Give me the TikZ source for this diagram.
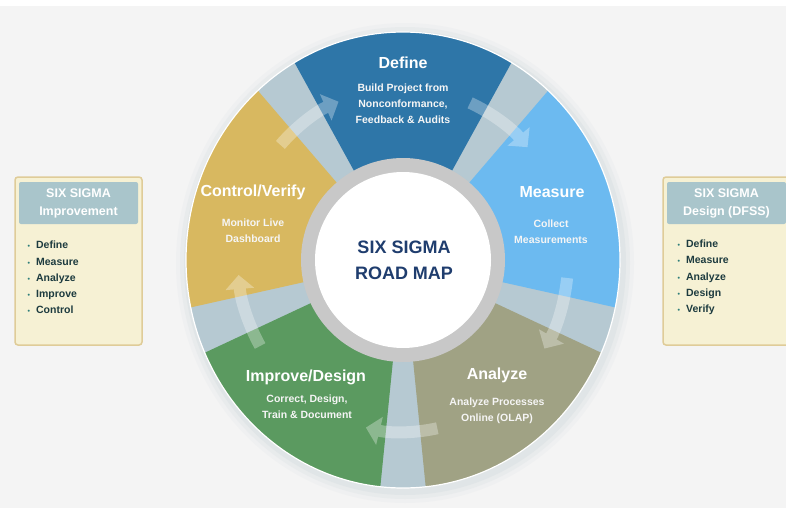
\documentclass[tikz,border=0pt]{standalone}
\usepackage{fontspec}
\setmainfont{Liberation Sans}
\usetikzlibrary{arrows.meta}

\definecolor{pagebg}{HTML}{F4F4F4}
\definecolor{shadowcol}{HTML}{C9D3D8}
\definecolor{gapcol}{HTML}{B6C9D2}
\definecolor{definecol}{HTML}{2E76A8}
\definecolor{measurecol}{HTML}{6CBAF0}
\definecolor{analyzecol}{HTML}{A0A284}
\definecolor{improvecol}{HTML}{5B9A60}
\definecolor{controlcol}{HTML}{D8B860}
\definecolor{ringcol}{HTML}{C8C8C8}
\definecolor{hubtext}{HTML}{1F3D6E}
\definecolor{boxfill}{HTML}{F6F1D4}
\definecolor{boxline}{HTML}{DFCC98}
\definecolor{boxhead}{HTML}{A9C5CB}
\definecolor{itemtext}{HTML}{1D3B3F}
\definecolor{itemdot}{HTML}{2F7F7A}

\newcommand{\listdot}{\textcolor{itemdot}{\fontsize{7}{7}\selectfont\textbullet}\hspace{6pt}}

\begin{document}
\begin{tikzpicture}[x=1pt,y=-1pt,
	title/.style={text=white,font=\bfseries\fontsize{16}{18}\selectfont},
	sub/.style={text=white!92!gray,font=\bfseries\fontsize{10.5}{16}\selectfont,align=center},
	hubtitle/.style={text=hubtext,font=\bfseries\fontsize{18}{26}\selectfont,align=center},
	cyclearrow/.style={white,line width=12pt,-{Triangle[width=28pt,length=14pt]}},
	sidebox/.style={draw=boxline,line width=1.5pt,fill=boxfill,rounded corners=3pt,minimum width=127pt,minimum height=168pt,inner sep=0pt},
	headbox/.style={fill=boxhead,rounded corners=2pt,minimum width=119pt,minimum height=42pt,inner sep=0pt,text=white,font=\bfseries\fontsize{12.5}{18}\selectfont,align=center},
	itemlist/.style={text=itemtext,font=\bfseries\fontsize{10.5}{16.25}\selectfont,align=left,anchor=west,inner sep=0pt}]
	\useasboundingbox (0,0) rectangle (786,514);
	\fill[white] (0,0) rectangle (786,514);
	\fill[pagebg] (0,6) rectangle (786,508);

	% road map wheel
	\coordinate (hub) at (403,260);
	\foreach \rx/\ry/\o in {229/240/0.1, 225/236/0.16, 221/232/0.24}
		\fill[shadowcol,opacity=\o] ([shift={(2,3)}]hub) ellipse[x radius=\rx pt, y radius=\ry pt];
	\fill[gapcol] (hub) ellipse[x radius=217pt, y radius=228pt];
	\foreach \a/\col in {60/definecol, -12/measurecol, -84/analyzecol, -156/improvecol, 132/controlcol}
		\fill[\col] (hub) -- ++(\a:217pt and 228pt) arc[start angle=\a, end angle=\a+60, x radius=217pt, y radius=228pt] -- cycle;
	\foreach \g in {126, 54, -18, -90, -162}{
		\begin{scope}[transparency group,opacity=0.3]
			\draw[cyclearrow] (hub) ++(\g+12:165pt and 172pt) arc[start angle=\g+12, end angle=\g-13, x radius=165pt, y radius=172pt];
		\end{scope}
	}
	\draw[white,line width=1.2pt] (hub) ellipse[x radius=217pt, y radius=228pt];
	\fill[ringcol] (hub) circle[radius=102pt];
	\fill[white] (hub) circle[radius=88pt];

	\node[hubtitle] (roadmap) at (404,260.5) {SIX SIGMA\\ROAD MAP};

	\node[title] (define) at (403,63) {Define};
	\node[sub] (definetxt) at (403,104) {Build Project from\\Nonconformance,\\Feedback \& Audits};
	\node[title] (measure) at (552,192) {Measure};
	\node[sub] (measuretxt) at (551,232) {Collect\\Measurements};
	\node[title] (analyze) at (497,375) {Analyze};
	\node[sub] (analyzetxt) at (497,411) {Analyze Processes\\Online (OLAP)};
	\node[title] (improve) at (306,377) {Improve/Design};
	\node[sub] (improvetxt) at (307,407) {Correct, Design,\\Train \& Document};
	\node[title] (control) at (253,192) {Control/Verify};
	\node[sub] (controltxt) at (253,230.5) {Monitor Live\\Dashboard};

	% side panels
	\node[sidebox] (improvebox) at (78.5,261) {};
	\node[headbox] (improvehead) at (78.5,203) {SIX SIGMA\\Improvement};
	\node[itemlist] (improvelist) at (27.5,277.5) {\listdot Define\\\listdot Measure\\\listdot Analyze\\\listdot Improve\\\listdot Control};
	\node[sidebox] (dfssbox) at (726.5,261) {};
	\node[headbox] (dfsshead) at (726.5,203) {SIX SIGMA\\Design (DFSS)};
	\node[itemlist] (dfsslist) at (677.5,277.5) {\listdot Define\\\listdot Measure\\\listdot Analyze\\\listdot Design\\\listdot Verify};
\end{tikzpicture}
\end{document}
